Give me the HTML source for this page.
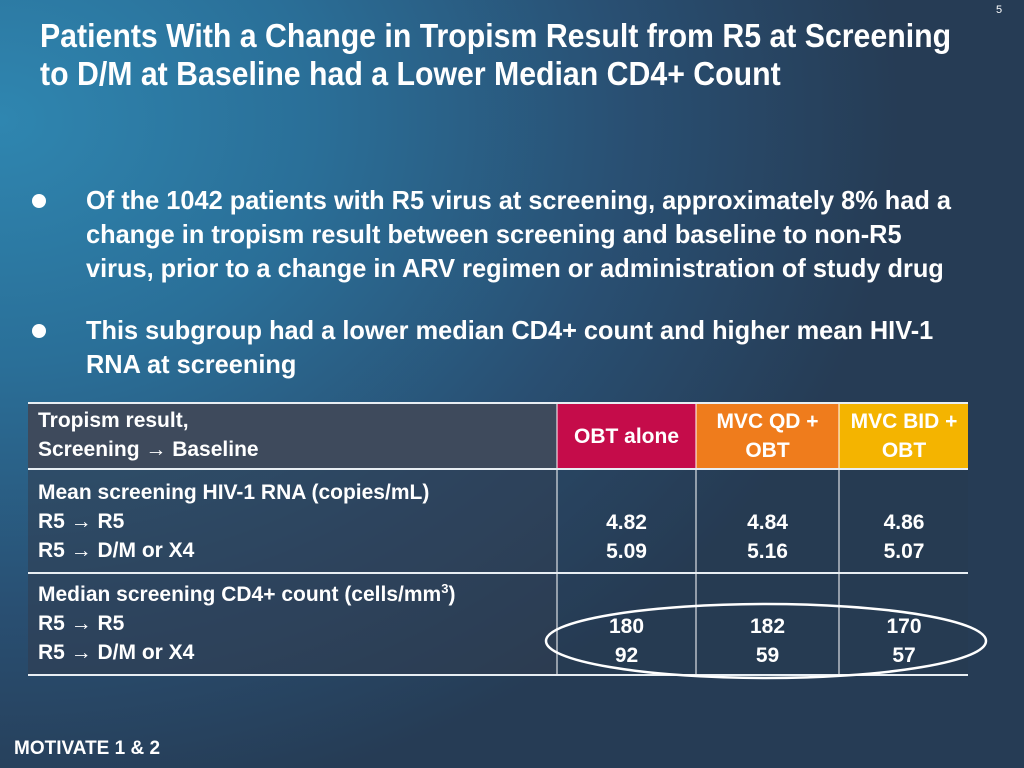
<!DOCTYPE html>
<html><head><meta charset="utf-8">
<style>
html,body{margin:0;padding:0}
body{width:1024px;height:768px;overflow:hidden;position:relative;
font-family:"Liberation Sans",sans-serif;color:#fff;font-weight:bold;
background:radial-gradient(ellipse 900px 700px at 0px 120px,#2f86b0 0%,#2a6f98 35%,#294f72 70%,#263c55 100%);}
.t{position:absolute;left:40px;top:17px;font-size:33px;line-height:38px;transform:scaleX(0.917);transform-origin:0 0;white-space:nowrap}
.pn{position:absolute;left:996px;top:4px;font-size:11px;font-weight:normal}
.b{position:absolute;left:30px;font-size:26px;line-height:34px}
.b span.dot{position:absolute;left:2px;top:11px;width:14px;height:14px;border-radius:50%;background:#fff}
.b div{margin-left:56px;transform:scaleX(0.975);transform-origin:0 0;white-space:nowrap}
table{position:absolute;left:28px;top:402px;width:940px;border-collapse:collapse;font-size:21px;table-layout:fixed}
td{border-top:2px solid #e8eef3;border-bottom:2px solid #e8eef3;border-left:2px solid rgba(255,255,255,0.5);padding:0 10px;vertical-align:top;line-height:29px;white-space:nowrap;overflow:visible}
td:first-child{border-left:none}
.h td{height:62px;padding:0 4px}
.h td.h1{background:#3e4a5c;padding:2px 10px 0}
.c1{background:#c50c4a;text-align:center;vertical-align:middle}
.c2{background:#ef7c1c;text-align:center;vertical-align:middle}
.c3{background:#f4b400;text-align:center;vertical-align:middle}
.r td{background:rgba(50,60,78,0.55)}
.r td.v{text-align:center;vertical-align:bottom;background:rgba(40,55,75,0.25)}
.r1 td{height:88px;padding-top:8px;padding-bottom:6px}
.r2 td{height:90px;padding-top:6px;padding-bottom:4px}
.f{position:absolute;left:14px;top:738px;font-size:19px}
</style></head><body>
<div class="pn">5</div>
<div class="t">Patients With a Change in Tropism Result from R5 at Screening<br>to D/M at Baseline had a Lower Median CD4+ Count</div>
<div class="b" style="top:183px"><span class="dot"></span><div>Of the 1042 patients with R5 virus at screening, approximately 8% had a<br>change in tropism result between screening and baseline to non-R5<br>virus, prior to a change in ARV regimen or administration of study drug</div></div>
<div class="b" style="top:313px"><span class="dot"></span><div>This subgroup had a lower median CD4+ count and higher mean HIV-1<br>RNA at screening</div></div>
<table>
<colgroup><col style="width:529px"><col style="width:139px"><col style="width:143px"><col style="width:129px"></colgroup>
<tr class="h">
<td class="h1">Tropism result,<br>Screening → Baseline</td>
<td class="c1">OBT alone</td>
<td class="c2">MVC QD +<br>OBT</td>
<td class="c3">MVC BID +<br>OBT</td>
</tr>
<tr class="r r1">
<td>Mean screening HIV-1 RNA (copies/mL)<br>R5 → R5<br>R5 → D/M or X4</td>
<td class="v">4.82<br>5.09</td>
<td class="v">4.84<br>5.16</td>
<td class="v">4.86<br>5.07</td>
</tr>
<tr class="r r2">
<td>Median screening CD4+ count (cells/mm<sup style="font-size:13px;line-height:0">3</sup>)<br>R5 → R5<br>R5 → D/M or X4</td>
<td class="v">180<br>92</td>
<td class="v">182<br>59</td>
<td class="v">170<br>57</td>
</tr>
</table>
<svg style="position:absolute;left:0;top:0" width="1024" height="768">
<ellipse cx="766" cy="641" rx="220" ry="37" fill="none" stroke="#fff" stroke-width="2.5"/>
</svg>
<div class="f">MOTIVATE 1 &amp; 2</div>
</body></html>
